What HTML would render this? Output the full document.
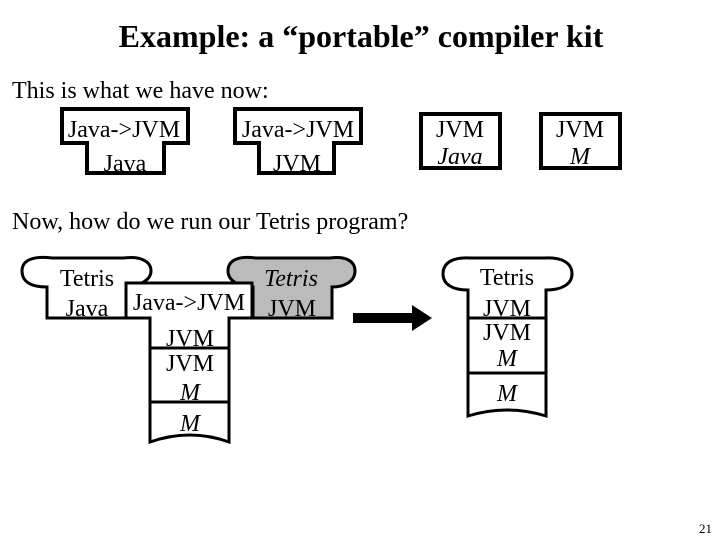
<!DOCTYPE html>
<html><head><style>
html,body{margin:0;padding:0;background:#fff;}
svg{display:block;}
text{font-family:"Liberation Serif",serif;fill:#000;}
</style></head><body>
<svg width="720" height="540" viewBox="0 0 720 540" xmlns="http://www.w3.org/2000/svg">
<text x="361" y="47" font-size="32" font-weight="bold" text-anchor="middle">Example: a “portable” compiler kit</text>
<text x="12" y="98" font-size="24">This is what we have now:</text>

<g fill="#fff" stroke="#000" stroke-width="4">
<path d="M62,109 L188,109 L188,143 L164,143 L164,173 L87,173 L87,143 L62,143 Z"/>
<path d="M235,109 L361,109 L361,143 L334,143 L334,173 L259,173 L259,143 L235,143 Z"/>
<rect x="421" y="114" width="79" height="54"/>
<rect x="541" y="114" width="79" height="54"/>
</g>
<g font-size="24" text-anchor="middle">
<text x="124" y="137">Java-&gt;JVM</text>
<text x="125" y="171">Java</text>
<text x="298" y="137">Java-&gt;JVM</text>
<text x="297" y="171">JVM</text>
<text x="460" y="137">JVM</text>
<text x="460" y="164" font-style="italic">Java</text>
<text x="580" y="137">JVM</text>
<text x="580" y="164" font-style="italic">M</text>
</g>

<text x="12" y="229" font-size="24">Now, how do we run our Tetris program?</text>

<g stroke="#000" stroke-width="3">
<path fill="#fff" d="M47,318 L47,287 C30,287 22,281 22,271 C22,259 35,256 52,258 L124,258 C140,256 151,261 151,271 C151,280 140,286 126,286 L126,318 Z"/>
<path fill="#bbb" d="M253,318 L253,287 C240,287 228,281 228,271 C228,259 240,256 256,258 L330,258 C346,256 355,261 355,271 C355,281 345,287 332,287 L332,318 Z"/>
<path fill="#fff" d="M126,283 L252,283 L252,318 L229,318 L229,442 Q190,428 150,442 L150,318 L126,318 Z"/>
<line x1="150" y1="348" x2="229" y2="348"/>
<line x1="150" y1="402" x2="229" y2="402"/>
<path fill="#fff" d="M468,290 C452,290 443,284 443,274 C443,262 454,257 470,258 L545,258 C562,257 572,263 572,274 C572,284 562,290 546,290 L546,416 Q507,404 468,416 Z"/>
<line x1="468" y1="318" x2="546" y2="318"/>
<line x1="468" y1="373" x2="546" y2="373"/>
</g>
<path d="M353,313 L412,313 L412,305 L432,318 L412,331 L412,323 L353,323 Z" fill="#000"/>

<g font-size="24" text-anchor="middle">
<text x="87" y="286">Tetris</text>
<text x="87" y="316">Java</text>
<text x="189" y="310">Java-&gt;JVM</text>
<text x="190" y="346">JVM</text>
<text x="190" y="371">JVM</text>
<text x="190" y="400" font-style="italic">M</text>
<text x="190" y="431" font-style="italic">M</text>
<text x="291" y="286" font-style="italic">Tetris</text>
<text x="292" y="316">JVM</text>
<text x="507" y="285">Tetris</text>
<text x="507" y="316">JVM</text>
<text x="507" y="340">JVM</text>
<text x="507" y="366" font-style="italic">M</text>
<text x="507" y="401" font-style="italic">M</text>
</g>
<text x="699" y="533" font-size="13">21</text>
</svg>
</body></html>
